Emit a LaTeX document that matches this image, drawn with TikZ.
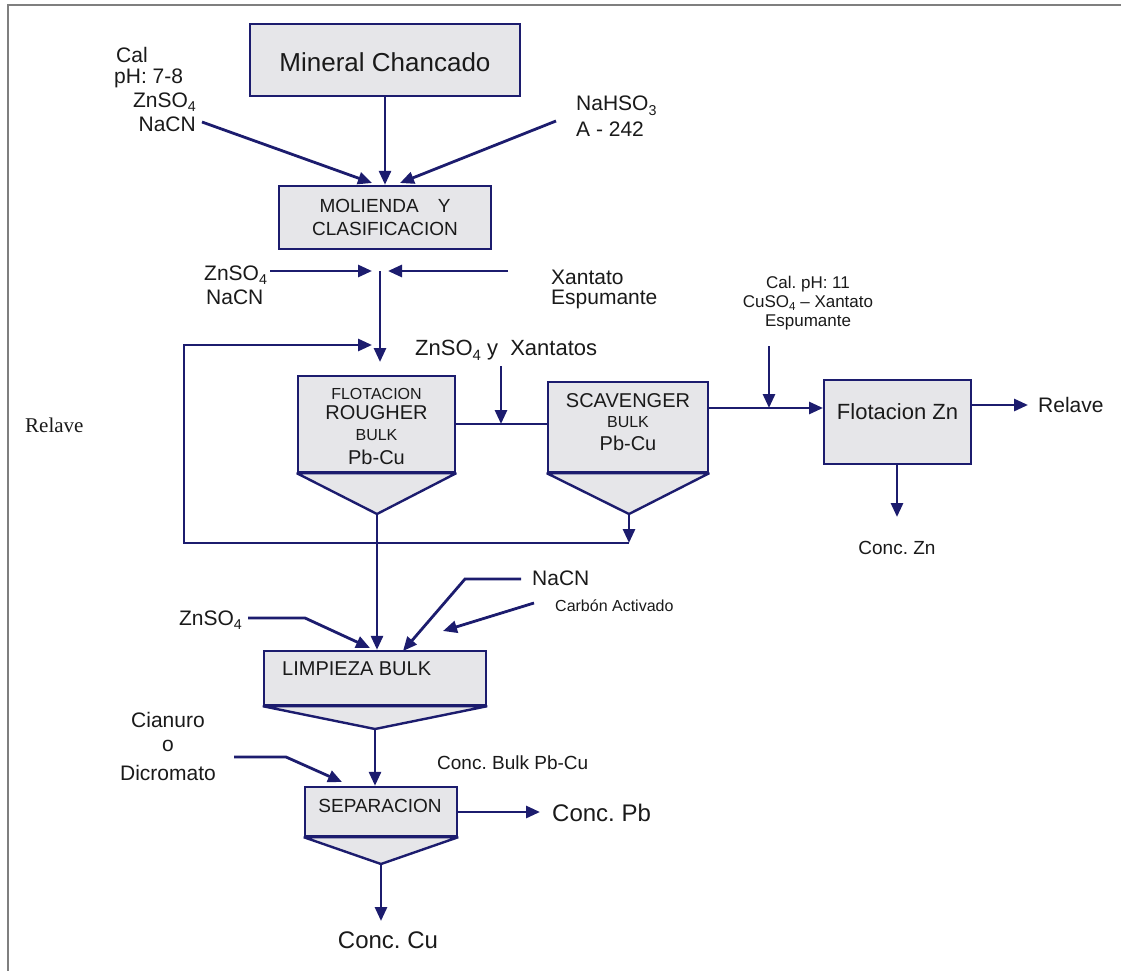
\documentclass[tikz,border=0pt]{standalone}
\usepackage{fontspec}
\setmainfont{Liberation Sans}
\newfontfamily\serifrm{Liberation Serif}
\usetikzlibrary{arrows.meta}
\definecolor{navy}{HTML}{1C1C6E}
\definecolor{cellfill}{HTML}{E6E6E9}
\definecolor{ink}{HTML}{1A1A1A}
\definecolor{framegray}{HTML}{7F7F7F}
\newcommand{\fsz}[1]{\fontsize{#1}{#1}\selectfont}
\newcommand{\dn}[1]{\raisebox{-0.22em}{\scalebox{0.68}{#1}}}

\begin{document}
\frenchspacing
\begin{tikzpicture}[x=1pt,y=-1pt,
  flow/.style={draw=navy, line width=2.8pt, line join=miter},
  arr/.style={flow, -{Triangle[length=14pt,width=12pt]}},
  cell/.style={draw=navy, fill=cellfill, line width=2.4pt, inner sep=0pt},
  hopper/.style={draw=navy, fill=cellfill, line width=2.4pt, line join=bevel},
  lbl/.style={text=ink, inner sep=0pt, font=\fsz{21}},
  small/.style={text=ink, inner sep=0pt, font=\fsz{16}},
]
\useasboundingbox (0,0) rectangle (1122,971);
\fill[white] (0,0) rectangle (1122,971);

% page frame
\draw[framegray, line width=2.2pt] (8,971) -- (8,5) -- (1121,5);

% ---------- process units ----------
\node[cell, minimum width=270pt, minimum height=72pt] (min) at (385,60) {};
\node[text=ink, font=\fsz{26}] (mint) at (385,62) {Mineral Chancado};

\node[cell, minimum width=212pt, minimum height=63pt] (mol) at (385,217.5) {};
\node[text=ink, inner sep=0pt, font=\fsz{19}] (molt1) at (385,206) {MOLIENDA\quad Y};
\node[text=ink, inner sep=0pt, font=\fsz{19}] (molt2) at (385,229) {CLASIFICACION};

\node[cell, minimum width=157pt, minimum height=96pt] (rough) at (376.5,424) {};
\coordinate (rapex) at (377,514);
\draw[hopper] (rough.south west) -- (rapex) -- (rough.south east) -- cycle;
\node[small] (rt1) at (376.5,394) {FLOTACION};
\node[text=ink, inner sep=0pt, font=\fsz{20}] (rt2) at (376.5,413) {ROUGHER};
\node[small] (rt3) at (376.5,435) {BULK};
\node[text=ink, inner sep=0pt, font=\fsz{20}] (rt4) at (376.5,457) {Pb-Cu};

\node[cell, minimum width=160pt, minimum height=90pt] (scav) at (628,427) {};
\coordinate (sapex) at (629,514);
\draw[hopper] (scav.south west) -- (sapex) -- (scav.south east) -- cycle;
\node[text=ink, inner sep=0pt, font=\fsz{20}] (st1) at (628,401) {SCAVENGER};
\node[small] (st2) at (628,422) {BULK};
\node[text=ink, inner sep=0pt, font=\fsz{20}] (st3) at (628,443) {Pb-Cu};

\node[cell, minimum width=147pt, minimum height=84pt] (zn) at (897.5,422) {};
\node[text=ink, inner sep=0pt, font=\fsz{22}] (znt) at (897.5,412) {Flotacion Zn};

\node[cell, minimum width=222pt, minimum height=54pt] (limp) at (375,678) {};
\coordinate (lapex) at (375,729);
\draw[hopper] (limp.south west) -- (lapex) -- (limp.south east) -- cycle;
\node[text=ink, inner sep=0pt, font=\fsz{20}, anchor=west] (limpt) at (282,669) {LIMPIEZA BULK};

\node[cell, minimum width=152pt, minimum height=49pt] (sep) at (381,811.5) {};
\coordinate (sepapex) at (381,864);
\draw[hopper] (sep.south west) -- (sepapex) -- (sep.south east) -- cycle;
\node[text=ink, inner sep=0pt, font=\fsz{19}] (sept) at (380,806) {SEPARACION};

% ---------- reagent and product labels ----------
\node[lbl, anchor=west] (cal1) at (116,55) {Cal};
\node[lbl, anchor=west] (ph1) at (114,78) {pH: 7-8};
\node[lbl, anchor=east] (zso1) at (196,102) {ZnSO\dn{4}};
\node[lbl, anchor=east] (nacn1) at (196,124) {NaCN};
\node[lbl, anchor=west] (nahso) at (576,106) {NaHSO\dn{3}};
\node[lbl, anchor=west] (a242) at (576,129) {A - 242};

\node[lbl, anchor=west] (zso2) at (204,275) {ZnSO\dn{4}};
\node[lbl, anchor=west] (nacn2) at (206,297) {NaCN};
\node[lbl, anchor=west] (xan1) at (551,277) {Xantato};
\node[lbl, anchor=west] (esp1) at (551,299) {Espumante};

\node[text=ink, inner sep=0pt, font=\fsz{22}, anchor=west] (zsoxan) at (415,350) {ZnSO\dn{4} y\ \ Xantatos};

\node[text=ink, inner sep=0pt, font=\fsz{17}] (calph) at (808,284) {Cal. pH: 11};
\node[text=ink, inner sep=0pt, font=\fsz{17}] (cuso) at (808,303) {CuSO\dn{4} -- Xantato};
\node[text=ink, inner sep=0pt, font=\fsz{17}] (esp2) at (808,322) {Espumante};

\node[lbl, anchor=west] (relr) at (1038,405) {Relave};
\node[text=ink, inner sep=0pt, font=\serifrm\fsz{21}, anchor=west] (rell) at (25,425) {Relave};
\node[text=ink, inner sep=0pt, font=\fsz{19}] (cznt) at (897,548) {Conc. Zn};

\node[lbl, anchor=west] (nacn3) at (532,578) {NaCN};
\node[small, anchor=west] (carb) at (555,606) {Carbón Activado};
\node[lbl, anchor=east] (zso3) at (242,620) {ZnSO\dn{4}};

\node[lbl] (cian) at (168,720) {Cianuro};
\node[lbl] (oo) at (168,746) {o};
\node[lbl] (dicr) at (168,773) {Dicromato};
\node[text=ink, inner sep=0pt, font=\fsz{19}, anchor=west] (cbulk) at (437,763) {Conc. Bulk Pb-Cu};

\node[text=ink, inner sep=0pt, font=\fsz{24}, anchor=west] (cpb) at (552,813) {Conc. Pb};
\node[text=ink, inner sep=0pt, font=\fsz{24}] (ccu) at (388,940) {Conc. Cu};

% ---------- connector end points ----------
\coordinate (f1) at (202,122);
\coordinate (t1) at (372,183);
\coordinate (f2) at (556,121);
\coordinate (t2) at (400,183);
\coordinate (j1) at (380,271);
\coordinate (f3) at (270,271);
\coordinate (t3) at (372,271);
\coordinate (f4) at (508,271);
\coordinate (t4) at (388,271);
\coordinate (t5) at (380,362);
\coordinate (lr) at (629,543);
\coordinate (ll) at (184,543);
\coordinate (lt) at (184,345);
\coordinate (le) at (372,345);
\coordinate (f6) at (501,366);
\coordinate (f7) at (769,346);
\coordinate (tzn) at (823,408);
\coordinate (trel) at (1028,405);
\coordinate (tczn) at (897,517);
\coordinate (f8) at (248,618);
\coordinate (k8) at (305,618);
\coordinate (t8) at (370,648);
\coordinate (f9) at (521,579);
\coordinate (k9) at (465,579);
\coordinate (t9) at (403,651);
\coordinate (f10) at (534,603);
\coordinate (t10) at (443,631);
\coordinate (f11) at (234,757);
\coordinate (k11) at (286,757);
\coordinate (t11) at (342,782);
\coordinate (tcpb) at (540,812);
\coordinate (tccu) at (381,921);

% ---------- flows ----------
\draw[arr] (f1) -- (t1);
\draw[arr] (min.south) -- (mol.north);
\draw[arr] (f2) -- (t2);

\draw[arr] (f3) -- (t3);
\draw[arr] (f4) -- (t4);
\draw[arr] (j1) -- (t5);

% scavenger tails return to the rougher feed
\draw[arr] (sapex) -- (lr);
\draw[arr] (lr) -- (ll) -- (lt) -- (le);

\draw[flow] (rough.east) -- (rough.east -| scav.west);
\draw[arr] (f6) -- (f6 |- rough.east);

\draw[arr] (scav.east |- tzn) -- (tzn);
\draw[arr] (f7) -- (f7 |- tzn);
\draw[arr] (zn.east |- trel) -- (trel);
\draw[arr] (zn.south -| tczn) -- (tczn);

\draw[arr] (rapex) -- (rapex |- limp.north);
\draw[arr] (f8) -- (k8) -- (t8);
\draw[arr] (f9) -- (k9) -- (t9);
\draw[arr] (f10) -- (t10);

\draw[arr] (lapex) -- (lapex |- sep.north);
\draw[arr] (f11) -- (k11) -- (t11);
\draw[arr] (sep.east |- tcpb) -- (tcpb);
\draw[arr] (sepapex) -- (tccu);
\end{tikzpicture}
\end{document}
